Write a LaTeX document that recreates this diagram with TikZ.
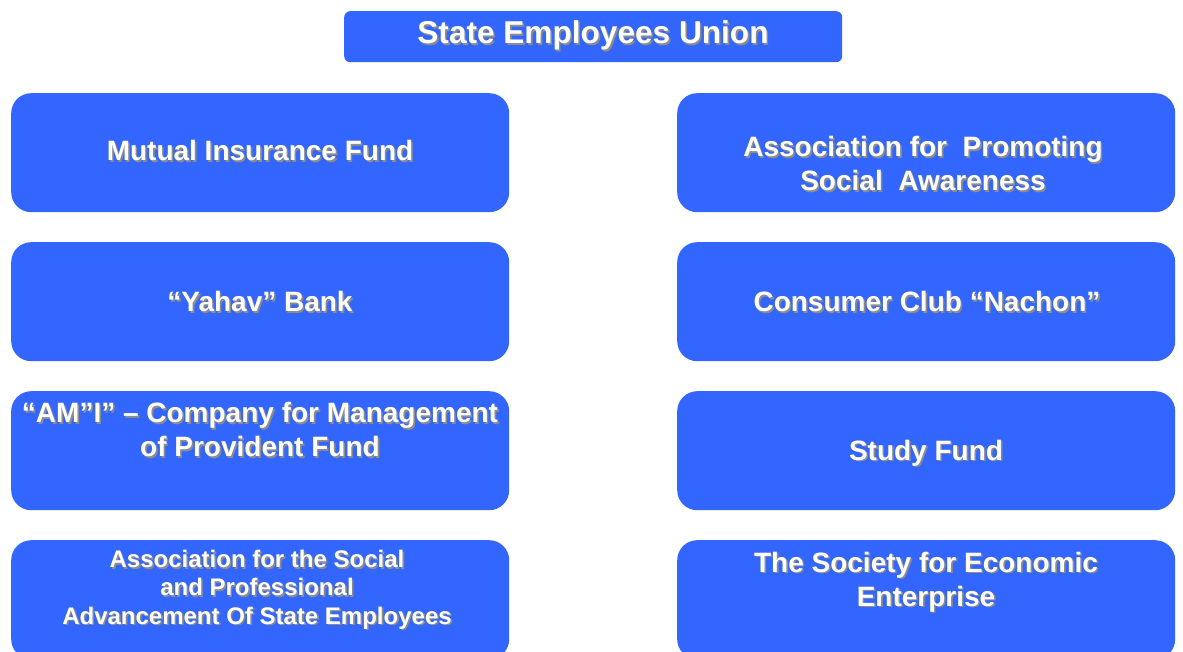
\documentclass[tikz,border=0pt]{standalone}
\usepackage{fontspec}
\setmainfont{Liberation Sans}
\definecolor{boxblue}{HTML}{3366FF}
\definecolor{shadowgray}{HTML}{8C8C8C}
\tikzset{
  x=1pt, y=-1pt,
  bigbox/.style={fill=boxblue, draw=none, rounded corners=20pt, anchor=north west,
    minimum width=498pt, minimum height=119pt, inner sep=0pt},
  topbox/.style={fill=boxblue, draw=none, rounded corners=6pt, anchor=north west,
    minimum width=498pt, minimum height=51pt, inner sep=0pt},
  txtbase/.style={align=center, inner sep=0pt, font=\bfseries\fontsize{28}{34}\selectfont,
    text height=20pt, text depth=0pt},
  txt/.style={txtbase, text=white},
  shtxt/.style={txtbase, text=shadowgray},
  smallfont/.style={font=\bfseries\fontsize{24}{28.2}\selectfont, text height=17pt},
  titlefont/.style={font=\bfseries\fontsize{31.6}{36}\selectfont, text height=22pt}
}
\newcommand\shadowtext[3][]{%
  \node[shtxt,#1] at ([shift={(1.6,1.6)}]#2) {#3};
  \node[txt,#1] at (#2) {#3};}
\begin{document}
\begin{tikzpicture}
\useasboundingbox (0,0) rectangle (1183,652);
% boxes
\node[topbox] (seu) at (344,11) {};
\node[bigbox] (mif) at (11,93) {};
\node[bigbox] (apsa) at (677,93) {};
\node[bigbox] (yb) at (11,242) {};
\node[bigbox] (ccn) at (677,242) {};
\node[bigbox] (ami) at (11,391) {};
\node[bigbox] (sf) at (677,391) {};
\node[bigbox] (aspa) at (11,540) {};
\node[bigbox] (see) at (677,540) {};
% texts (each at the cap centre of its last line)
\coordinate (tseu) at (593,32.5);
\coordinate (tmif) at (260,150.5);
\coordinate (tapsa) at (923,180.5);
\coordinate (tyb) at (260,301.5);
\coordinate (tccn) at (927,301.5);
\coordinate (tami) at (260,446.5);
\coordinate (tsf) at (926,450);
\coordinate (taspa) at (257,615.5);
\coordinate (tsee) at (926,596);
\shadowtext[titlefont]{tseu}{State Employees Union}
\shadowtext{tmif}{Mutual Insurance Fund}
\shadowtext{tapsa}{Association for~~Promoting\\Social~~Awareness}
\shadowtext{tyb}{“Yahav” Bank}
\shadowtext{tccn}{Consumer Club “Nachon”}
\shadowtext{tami}{“AM”I” – Company for Management\\of Provident Fund}
\shadowtext{tsf}{Study Fund}
\shadowtext[smallfont]{taspa}{Association for the Social\\and Professional\\Advancement Of State Employees}
\shadowtext{tsee}{The Society for Economic\\Enterprise}
\end{tikzpicture}
\end{document}
